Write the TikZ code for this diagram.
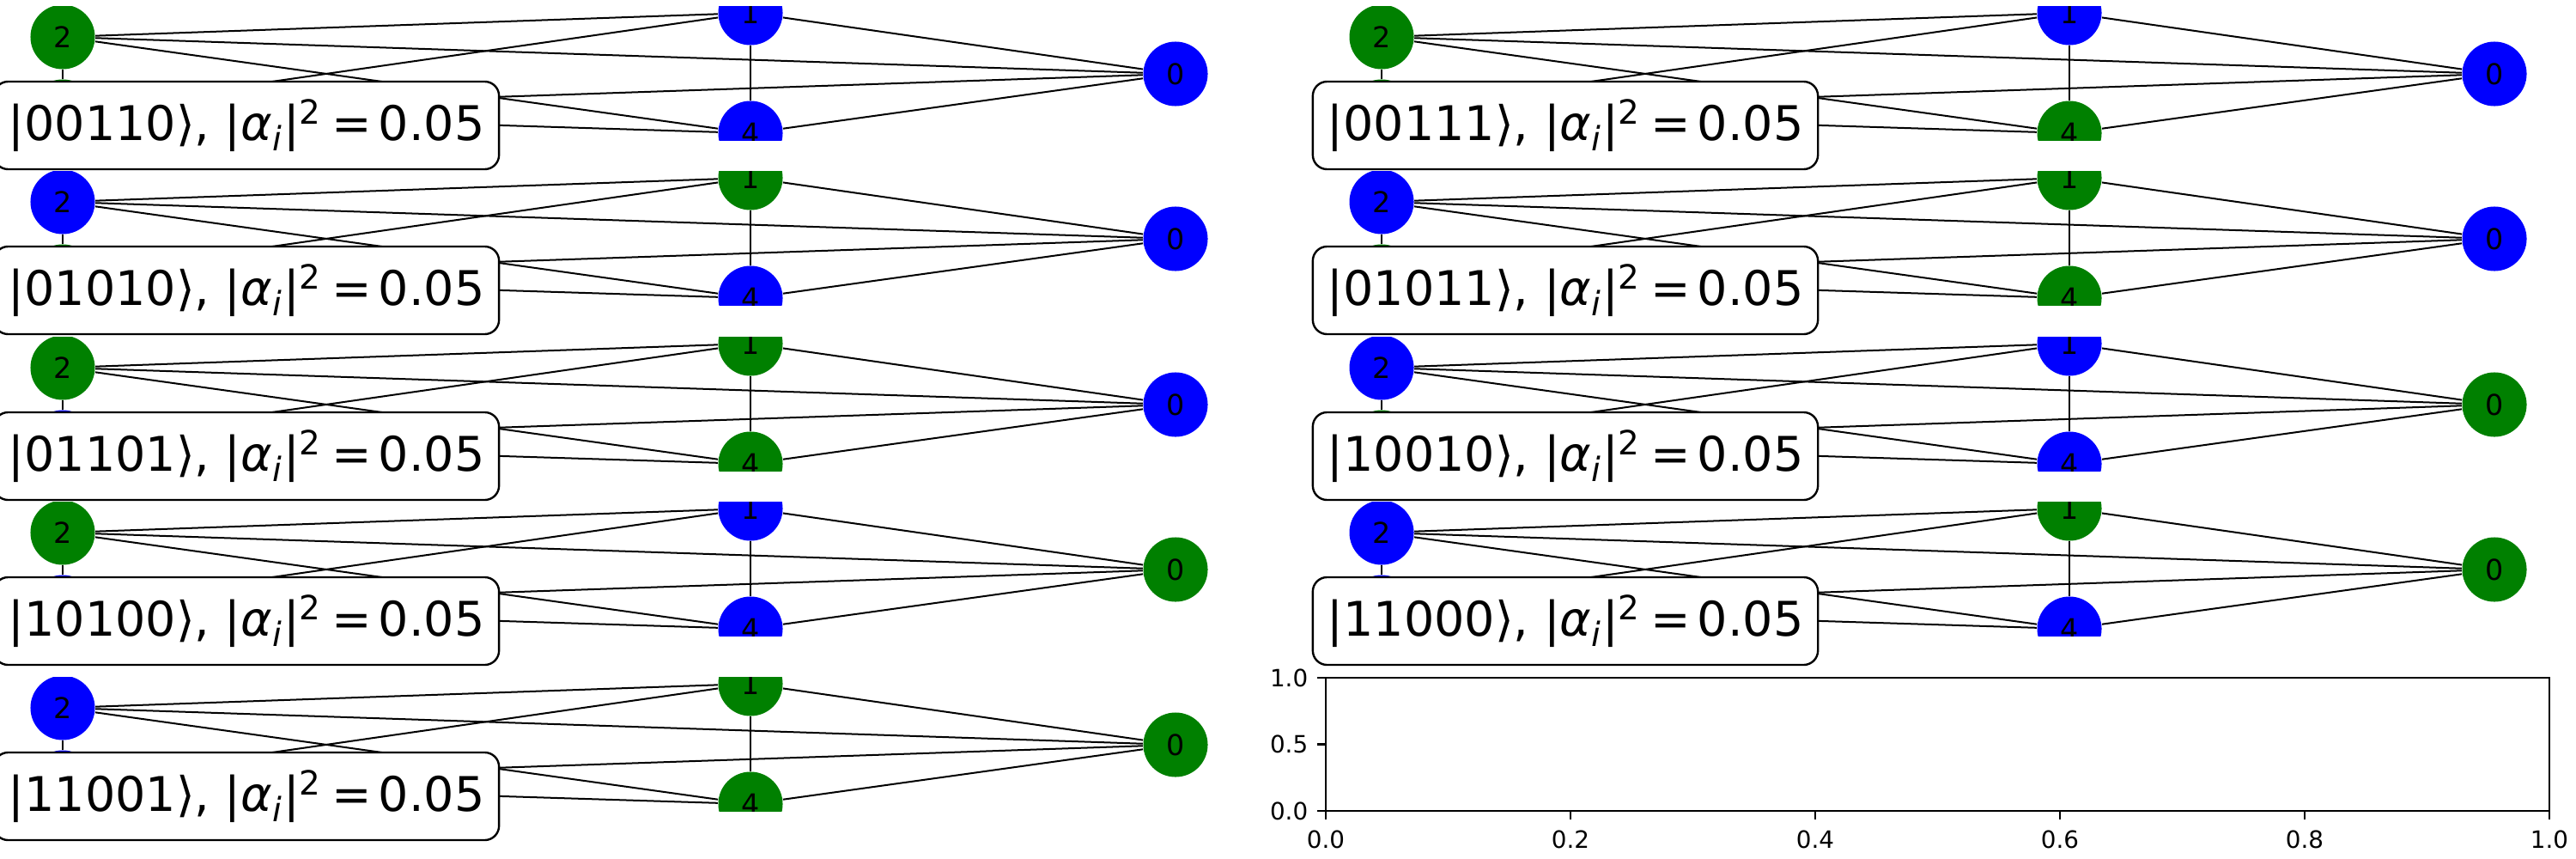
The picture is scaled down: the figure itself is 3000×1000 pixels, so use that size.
\documentclass[tikz,border=0pt]{standalone}
\usepackage{fontspec}
\setmainfont{DejaVu Sans}

\definecolor{qblue}{HTML}{0000FF}
\definecolor{qgreen}{HTML}{008000}

\tikzset{
  qnode/.style={circle, inner sep=0pt, minimum size=0.75cm,
    font=\fontsize{9.5}{11}\selectfont},
  qubit0/.style={qnode, fill=qblue},
  qubit1/.style={qnode, fill=qgreen},
  link/.style={line width=0.02cm, black},
  statebox/.style={draw, line width=0.024cm, fill=white, rounded corners=0.167cm,
    minimum width=5.88cm, minimum height=1.02cm, inner sep=0pt,
    font=\fontsize{15.8}{19}\selectfont},
  spine/.style={line width=0.022cm},
  ticklabel/.style={inner sep=0pt, font=\fontsize{7.9}{9.5}\selectfont}
}

% #1,#2: top left corner of the axes, #3..#7: bits of qubits 0..4
\newcommand{\graphpanel}[7]{%
  \begin{scope}[shift={(#1,#2)}]
    \begin{scope}
      \clip (0,0) rectangle (1425,156);
      \node[qubit#3] (k#3#4#5#6#7-0) at (1361,79) {0};
      \node[qubit#4] (k#3#4#5#6#7-1) at (866,8) {1};
      \node[qubit#5] (k#3#4#5#6#7-2) at (65,36) {2};
      \node[qubit#6] (k#3#4#5#6#7-3) at (65,123) {};
      \node[qubit#7] (k#3#4#5#6#7-4) at (866,148) {4};
      \foreach \a/\b in {0/1,0/2,0/3,0/4,1/2,1/3,1/4,2/3,2/4,3/4}
        \draw[link] (k#3#4#5#6#7-\a) -- (k#3#4#5#6#7-\b);
    \end{scope}
    \node[statebox] (lab#3#4#5#6#7) at (279,139)
      {|#3#4#5#6#7⟩, |\textit{α}\textsubscript{\textit{i}}|\textsuperscript{2}\hspace{0.2em}=\hspace{0.14em}0.05};
  \end{scope}}

\begin{document}
\begin{tikzpicture}[x=0.01cm, y=-0.01cm]
  \useasboundingbox (0,0) rectangle (3000,1000);

  \graphpanel{8}{7}{0}{0}{1}{1}{0}
  \graphpanel{8}{199}{0}{1}{0}{1}{0}
  \graphpanel{8}{392}{0}{1}{1}{0}{1}
  \graphpanel{8}{584}{1}{0}{1}{0}{0}
  \graphpanel{8}{788}{1}{1}{0}{0}{1}

  \graphpanel{1544}{7}{0}{0}{1}{1}{1}
  \graphpanel{1544}{199}{0}{1}{0}{1}{1}
  \graphpanel{1544}{392}{1}{0}{0}{1}{0}
  \graphpanel{1544}{584}{1}{1}{0}{0}{0}

  % empty axes
  \draw[spine] (1544,789) rectangle (2969,944);
  \foreach \t/\lab in {0/0.0,1/0.2,2/0.4,3/0.6,4/0.8,5/1.0}
    \draw[spine] (1544+285*\t,944) -- ++(0,10)
      node[ticklabel, anchor=north, yshift=-0.12cm] (xtick\t) {\lab};
  \foreach \t/\lab in {0/0.0,1/0.5,2/1.0}
    \draw[spine] (1544,944-77.5*\t) -- ++(-10,0)
      node[ticklabel, anchor=east, xshift=-0.097cm] (ytick\t) {\lab};

\end{tikzpicture}
\end{document}
